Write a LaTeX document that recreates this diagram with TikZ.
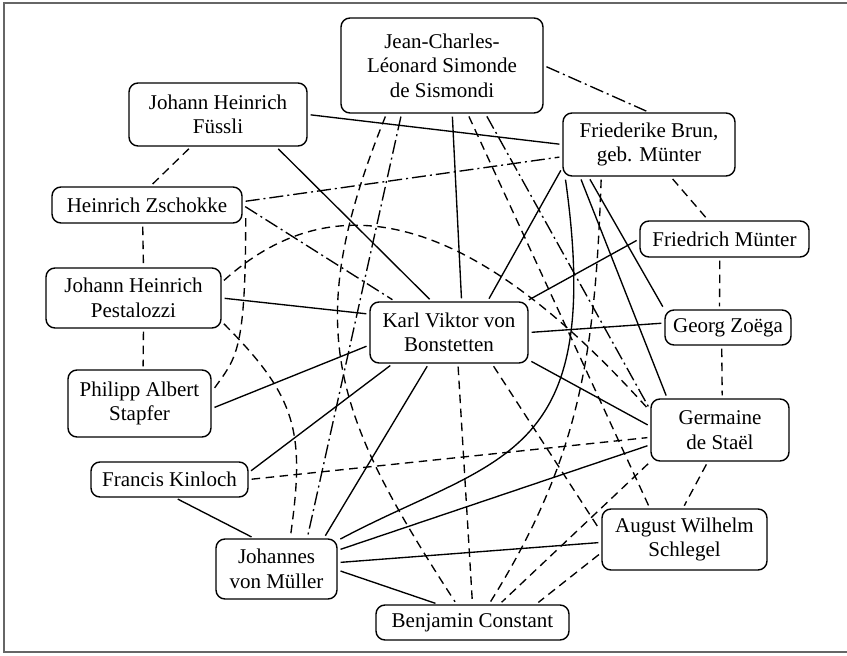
\documentclass[tikz,border=0pt]{standalone}
\usepackage{fontspec}
\setmainfont{Liberation Serif}

\tikzset{
  person/.style={draw, line width=1.4pt, rounded corners=9pt, fill=white,
    align=center, inner sep=0pt, font=\fontsize{21}{24.5}\selectfont},
  tie/.style={line width=1.35pt, shorten <=3pt, shorten >=3pt},
  dashedtie/.style={tie, dash pattern=on 8.5pt off 5.5pt},
  dashdottie/.style={tie, dash pattern=on 14pt off 4pt on 2pt off 4pt},
}

\begin{document}
\begin{tikzpicture}[x=1pt, y=1pt]
  \useasboundingbox (0,0) rectangle (847,-656);
  % frame of the page
  \draw[black!60, line width=1.8pt] (847,-3) -- (4,-3) -- (4,-652) -- (847,-652);

  % People
  \node[person, minimum width=202pt, minimum height=95pt] (sismondi) at (442,-65.5) {Jean-Charles-\\Léonard Simonde\\de Sismondi};
  \node[person, minimum width=178pt, minimum height=63pt] (fuessli) at (218,-114.5) {Johann Heinrich\\Füssli};
  \node[person, minimum width=172pt, minimum height=63pt] (brun) at (649,-144.5) {Friederike Brun,\\geb. Münter};
  \node[person, minimum width=190pt, minimum height=36pt] (zschokke) at (147,-205) {Heinrich Zschokke};
  \node[person, minimum width=169pt, minimum height=36pt] (muenter) at (724.5,-239) {Friedrich Münter};
  \node[person, minimum width=175pt, minimum height=60pt] (pestalozzi) at (133.5,-298) {Johann Heinrich\\Pestalozzi};
  \node[person, minimum width=158pt, minimum height=61pt] (bonstetten) at (449,-332.5) {Karl Viktor von\\Bonstetten};
  \node[person, minimum width=126pt, minimum height=35pt] (zoega) at (728,-327.5) {Georg Zoëga};
  \node[person, minimum width=143pt, minimum height=67pt] (stapfer) at (139.5,-403.5) {Philipp Albert\\Stapfer};
  \node[person, minimum width=138pt, minimum height=62pt] (stael) at (720,-430) {Germaine\\de Staël};
  \node[person, minimum width=157pt, minimum height=35pt] (kinloch) at (169.5,-479.5) {Francis Kinloch};
  \node[person, minimum width=165pt, minimum height=61pt] (schlegel) at (684.5,-539.5) {August Wilhelm\\Schlegel};
  \node[person, minimum width=121pt, minimum height=60pt] (mueller) at (276.5,-569) {Johannes\\von Müller};
  \node[person, minimum width=193pt, minimum height=35pt] (constant) at (472.5,-622.5) {Benjamin Constant};

  % Solid ties
  \foreach \a/\b in {fuessli.east/brun.west, fuessli.-29/bonstetten.119,
      pestalozzi.east/bonstetten.167, stapfer.-4/bonstetten.189,
      kinloch.5/bonstetten.209, kinloch.-73/mueller.126,
      mueller.33/bonstetten.237, brun.195/bonstetten.39,
      brun.208/zoega.north west, brun.205/stael.149,
      bonstetten.22/muenter.west, bonstetten.east/zoega.176,
      bonstetten.-19/stael.177, mueller.17/stael.192,
      mueller.6/schlegel.182, mueller.-1/constant.152,
      sismondi.-78/bonstetten.68}
    \draw[tie] (\a) -- (\b);
  \draw[tie] (mueller.25) to[out=28, in=-82, out distance=180pt, in distance=290pt] (brun.201);

  % Dashed ties
  \foreach \a/\b in {fuessli.230/zschokke.80, zschokke.257/pestalozzi.72,
      pestalozzi.-72/stapfer.84, kinloch.east/stael.186,
      bonstetten.-74/constant.north, bonstetten.-36/schlegel.175,
      stael.south west/constant.34, schlegel.189/constant.16,
      stael.-111/schlegel.93, zoega.-109/stael.86,
      muenter.256/zoega.115, brun.-56/muenter.131,
      sismondi.-62/schlegel.138}
    \draw[dashedtie] (\a) -- (\b);
  \draw[dashedtie] ([xshift=3pt]zschokke.-6) to[out=-90, in=55, out distance=140pt, in distance=42pt] (stapfer.9);
  \draw[dashedtie] (pestalozzi.10) to[out=42, in=132, out distance=180pt, in distance=220pt] (stael.165);
  \draw[dashedtie] (pestalozzi.-15) to[out=-45, in=82, distance=107pt] (mueller.66);
  \draw[dashedtie] (sismondi.221) to[out=-112, in=123, distance=230pt] (constant.131);
  \draw[dashedtie] (brun.214) to[out=-92, in=58, distance=174pt] (constant.48);

  % Dash-dotted ties
  \foreach \a/\b in {zschokke.2/brun.188, zschokke.east/bonstetten.150,
      sismondi.east/brun.north, sismondi.230/mueller.45,
      sismondi.-48/stael.164}
    \draw[dashdottie] (\a) -- (\b);
\end{tikzpicture}
\end{document}
